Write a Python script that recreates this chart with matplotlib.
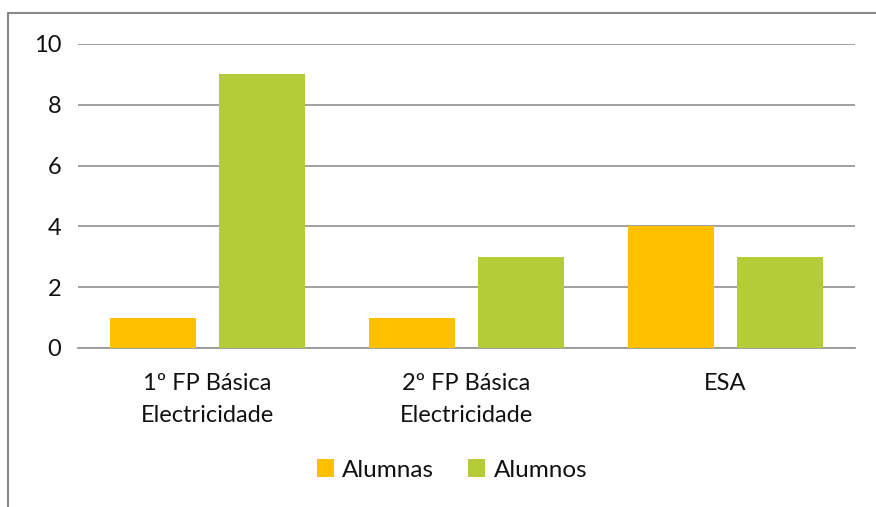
import matplotlib
matplotlib.use("Agg")
import matplotlib.pyplot as plt
import numpy as np
from matplotlib.patches import Rectangle

categories = ["1º FP Básica\nElectricidade", "2º FP Básica\nElectricidade", "ESA"]
alumnas = [1, 1, 4]
alumnos = [9, 3, 3]
series_names = ["Alumnas", "Alumnos"]
yticks = [0, 2, 4, 6, 8, 10]

plt.rcParams['font.family'] = ['Lato', 'DejaVu Sans']

W, H = 876, 507
fig = plt.figure(figsize=(W/100, H/100), dpi=100)

# outer frame
fig.patches.append(Rectangle((8/W, -0.1), 1.1, (H-13)/H + 0.1, transform=fig.transFigure,
                             fill=False, edgecolor='#888888', linewidth=1.5))

ax = fig.add_axes([78/W, 1-348/H, (855-78)/W, (348-44)/H])
x = np.arange(len(categories))
bw = 0.332
off = 0.21
ax.bar(x - off, alumnas, bw, color='#FFC000', label=series_names[0], zorder=3)
ax.bar(x + off, alumnos, bw, color='#B3CC38', label=series_names[1], zorder=3)
ax.set_xlim(-0.5, 2.5)
ax.set_ylim(0, 10)
ax.set_yticks(yticks)
ax.set_yticklabels([str(v) for v in yticks], fontsize=17, color='#111111')
ax.yaxis.grid(True, color='#999999', linewidth=1.3, zorder=0)
ax.set_axisbelow(True)
for s in ['top', 'right', 'left']:
    ax.spines[s].set_visible(False)
ax.spines['bottom'].set_color('#999999')
ax.spines['bottom'].set_linewidth(1.3)
ax.tick_params(axis='y', length=0, pad=12)
ax.tick_params(axis='x', length=0, pad=18)
ax.set_xticks(x)
ax.set_xticklabels(categories, fontsize=17, linespacing=1.65, color='#111111')

leg = fig.legend(loc='center', bbox_to_anchor=(452/W, 1-470/H), ncol=2, frameon=False,
                 fontsize=17.5, handlelength=0.7, handleheight=0.7, handletextpad=0.35,
                 columnspacing=1.4)
for t in leg.get_texts():
    t.set_color('#111111')

fig.savefig("out.png", dpi=100)
